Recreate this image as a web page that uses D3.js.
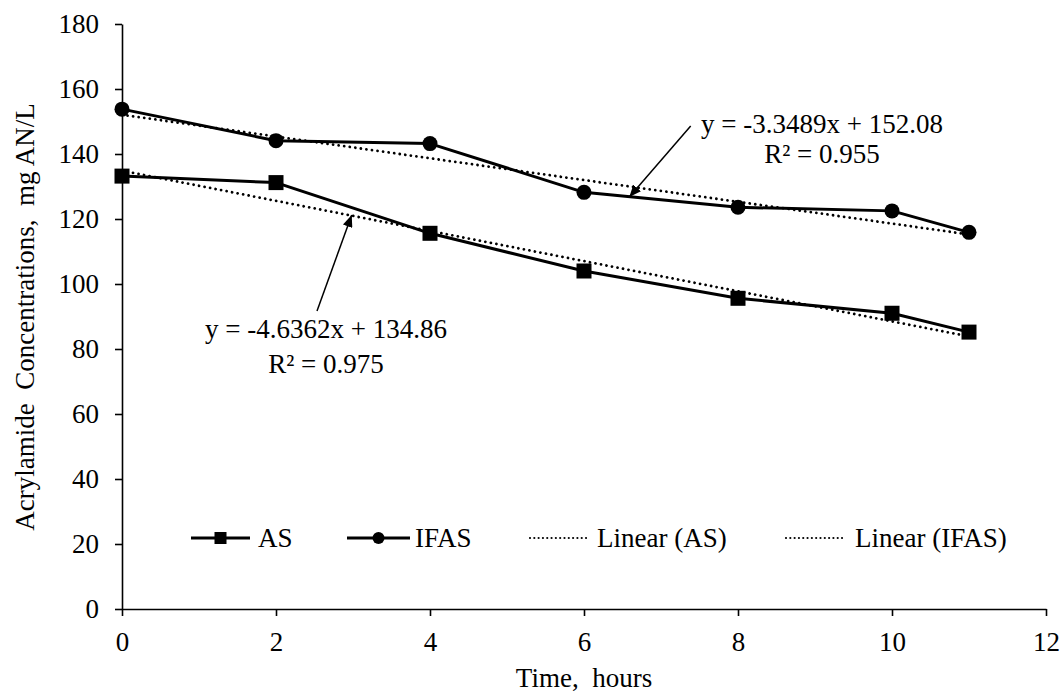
<!DOCTYPE html>
<html><head><meta charset="utf-8">
<script src="https://cdn.jsdelivr.net/npm/d3@7"></script>
<style>body{margin:0;background:#fff}svg{display:block}text{font-family:"Liberation Serif","Times New Roman",serif;fill:#000}</style>
</head><body><svg id="c" width="1063" height="695"></svg>
<script>
// ---- data ----
const hours = [0, 2, 4, 6, 8, 10, 11];
const asValues = [133.2, 131.2, 115.6, 104.0, 95.6, 91.0, 85.2];
const ifasValues = [153.8, 144.1, 143.2, 128.2, 123.6, 122.5, 115.9];
const trendSlopes = [-4.6362, -3.3489];      // AS, IFAS
const trendIntercepts = [134.86, 152.08];
const trendR2 = ["0.975", "0.955"];
const xTickValues = [0, 2, 4, 6, 8, 10, 12];
const yTickValues = [0, 20, 40, 60, 80, 100, 120, 140, 160, 180];
const seriesNames = ["AS", "IFAS", "Linear (AS)", "Linear (IFAS)"];
const xTitle = "Time,  hours";
const yTitle = "Acrylamide  Concentrations,  mg AN/L";

const FS = 27;
const svg = d3.select("#c");
const x = d3.scaleLinear([0, 12], [122, 1046]);
const y = d3.scaleLinear([0, 180], [609, 24]);

const defs = svg.append("defs");
defs.append("marker").attr("id","arr").attr("viewBox","0 0 12 10").attr("refX",12).attr("refY",5)
  .attr("markerWidth",12).attr("markerHeight",10).attr("markerUnits","userSpaceOnUse").attr("orient","auto")
  .append("path").attr("d","M0,0L12,5L0,10Z").attr("fill","#000");

// axes
const gx = svg.append("g").attr("transform","translate(0,609)")
  .call(d3.axisBottom(x).tickValues(xTickValues).tickSize(7).tickSizeOuter(0).tickPadding(16).tickFormat(d3.format("d")));
const gy = svg.append("g").attr("transform","translate(122,0)")
  .call(d3.axisLeft(y).tickValues(yTickValues).tickSize(7).tickSizeOuter(0).tickPadding(16).tickFormat(d3.format("d")));
[gx, gy].forEach(g => {
  g.attr("font-size", FS).attr("font-family", '"Liberation Serif", serif');
  g.selectAll("path,line").attr("stroke","#000").attr("stroke-width",1.6);
  g.selectAll("text").attr("fill","#000");
});

// trend lines
const tl = d3.line().x(d => x(d[0])).y(d => y(d[1]));
trendSlopes.forEach((m, i) => {
  const xd = d3.extent(hours);
  svg.append("path").datum(xd.map(h => [h, m * h + trendIntercepts[i]]))
    .attr("d", tl).attr("fill","none").attr("stroke","#000").attr("stroke-width",2.8)
    .attr("stroke-linecap","round").attr("stroke-dasharray","0.01 5.6");
});

// series lines
const line = d3.line().x((d, i) => x(hours[i])).y(d => y(d));
[asValues, ifasValues].forEach(vals => {
  svg.append("path").datum(vals).attr("d", line).attr("fill","none")
    .attr("stroke","#000").attr("stroke-width",3).attr("stroke-linejoin","round");
});
svg.append("g").selectAll("rect").data(asValues).join("rect")
  .attr("x",(d,i)=>x(hours[i])-7.5).attr("y",d=>y(d)-7.5).attr("width",15).attr("height",15).attr("fill","#000");
svg.append("g").selectAll("circle").data(ifasValues).join("circle")
  .attr("cx",(d,i)=>x(hours[i])).attr("cy",d=>y(d)).attr("r",7.5).attr("fill","#000");

// equation annotations
const ann = [
  {cx: 326, y1: 338, y2: 373, ax1: 317, ay1: 311, ax2: 351.7, ay2: 215},
  {cx: 822, y1: 133, y2: 163, ax1: 690.7, ay1: 126, ax2: 629.3, ay2: 197}
];
ann.forEach((a, i) => {
  const s = trendSlopes[i].toFixed(4);
  svg.append("text").attr("x",a.cx).attr("y",a.y1).attr("text-anchor","middle").attr("font-size",FS)
    .text(`y = ${s}x + ${trendIntercepts[i].toFixed(2)}`);
  svg.append("text").attr("x",a.cx).attr("y",a.y2).attr("text-anchor","middle").attr("font-size",FS)
    .text(`R² = ${trendR2[i]}`);
  svg.append("line").attr("x1",a.ax1).attr("y1",a.ay1).attr("x2",a.ax2).attr("y2",a.ay2)
    .attr("stroke","#000").attr("stroke-width",1.5).attr("marker-end","url(#arr)");
});

// legend
const ly = 538;
const leg = [
  {x1:191, x2:250, tx:258, type:"square"},
  {x1:347, x2:410, tx:415, type:"circle"},
  {x1:530, x2:589, tx:597, type:"dot"},
  {x1:786, x2:846, tx:855, type:"dot"}
];
leg.forEach((l, i) => {
  const g = svg.append("g");
  if (l.type === "dot") {
    g.append("line").attr("x1",l.x1).attr("x2",l.x2).attr("y1",ly).attr("y2",ly)
      .attr("stroke","#000").attr("stroke-width",2.2).attr("stroke-linecap","round").attr("stroke-dasharray","0.01 4.3");
  } else {
    g.append("line").attr("x1",l.x1).attr("x2",l.x2).attr("y1",ly).attr("y2",ly).attr("stroke","#000").attr("stroke-width",3);
    const mx = (l.x1 + l.x2) / 2;
    if (l.type === "square") g.append("rect").attr("x",mx-6).attr("y",ly-6).attr("width",12).attr("height",12).attr("fill","#000");
    else g.append("circle").attr("cx",mx).attr("cy",ly).attr("r",6).attr("fill","#000");
  }
  g.append("text").attr("x",l.tx).attr("y",ly).attr("dy","0.35em").attr("font-size",FS).text(seriesNames[i]);
});

// axis titles
svg.append("text").attr("x",584).attr("y",687).attr("text-anchor","middle").attr("font-size",FS).attr("xml:space","preserve").style("white-space","pre").text(xTitle);
svg.append("text").attr("transform","translate(34,317) rotate(-90)").attr("text-anchor","middle").attr("font-size",FS).style("white-space","pre").text(yTitle);
</script></body></html>
